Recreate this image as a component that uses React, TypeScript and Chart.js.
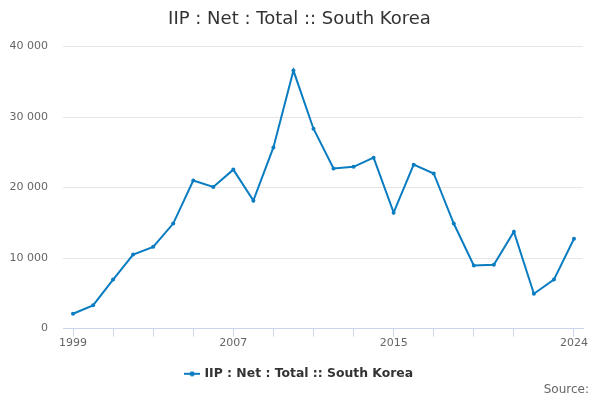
import { useEffect, useRef } from "react";
import { Chart, registerables, type ChartOptions } from "chart.js";

Chart.register(...registerables);

const years = [
  1999, 2000, 2001, 2002, 2003, 2004, 2005, 2006, 2007, 2008, 2009, 2010, 2011,
  2012, 2013, 2014, 2015, 2016, 2017, 2018, 2019, 2020, 2021, 2022, 2023, 2024,
];
const netIip = [
  2100, 3300, 6950, 10500, 11600, 14900, 21000, 20100, 22550, 18150, 25700,
  36600, 28350, 22700, 22950, 24250, 16450, 23250, 22000, 14900, 8950, 9050,
  13750, 4950, 6950, 12750,
];
const tickYears = [
  1999, 2001, 2003, 2005, 2007, 2009, 2011, 2013, 2015, 2017, 2019, 2021, 2024,
];
const labeledYears = [1999, 2007, 2015, 2024];
const seriesName = "IIP : Net : Total :: South Korea";

const FONT = "'DejaVu Sans', Verdana, sans-serif";
const BLUE = "#0a7cc1";

function legendMarker() {
  const c = document.createElement("canvas");
  c.width = 16;
  c.height = 6;
  const ctx = c.getContext("2d")!;
  ctx.strokeStyle = BLUE;
  ctx.lineWidth = 2;
  ctx.beginPath();
  ctx.moveTo(0, 3);
  ctx.lineTo(16, 3);
  ctx.stroke();
  ctx.fillStyle = BLUE;
  ctx.beginPath();
  ctx.arc(8, 3, 2.5, 0, Math.PI * 2);
  ctx.fill();
  return c;
}

// centre title and legend on the whole canvas rather than on the padded box
const centreShift = {
  id: "centreShift",
  afterLayout(chart: Chart) {
    const boxes = [chart.legend, (chart as any).titleBlock];
    for (const b of boxes) {
      if (!b) continue;
      b.left += 8;
      b.right += 8;
    }
  },
};

const sourcePlugin = {
  id: "sourceText",
  afterDraw(chart: Chart) {
    const { ctx } = chart;
    ctx.save();
    ctx.font = `12px ${FONT}`;
    ctx.fillStyle = "#666666";
    ctx.textAlign = "right";
    ctx.textBaseline = "middle";
    ctx.fillText("Source:", 589, 390);
    ctx.restore();
  },
};

export default function App() {
  const canvasRef = useRef<HTMLCanvasElement>(null);

  useEffect(() => {
    if (!canvasRef.current) return;

    const options: ChartOptions<"line"> = {
      responsive: false,
      animation: false,
      layout: { padding: { left: 0, right: 17, top: 0, bottom: 10 } },
      plugins: {
        title: {
          display: true,
          text: seriesName,
          color: "#333333",
          font: { family: FONT, size: 18, weight: "normal" },
          padding: { top: 9, bottom: 16 },
        },
        legend: {
          position: "bottom",
          labels: {
            color: "#333333",
            font: { family: FONT, size: 12.4, weight: "bold" },
            usePointStyle: true,
            pointStyle: legendMarker(),
            padding: 8,
          },
        },
        tooltip: { enabled: false },
      },
      scales: {
        x: {
          type: "linear",
          min: 1998.5,
          max: 2024.45,
          afterBuildTicks: (scale) => {
            scale.ticks = tickYears.map((v) => ({ value: v }));
          },
          afterFit: (scale) => {
            scale.height = 31;
          },
          ticks: {
            autoSkip: false,
            maxRotation: 0,
            color: "#666666",
            font: { family: FONT, size: 11 },
            padding: 0,
            callback: (v) => (labeledYears.includes(Number(v)) ? String(v) : ""),
          },
          grid: {
            drawOnChartArea: false,
            drawTicks: true,
            tickLength: 8,
            color: "#ccd6eb",
          },
          border: { color: "#ccd6eb" },
        },
        y: {
          min: 0,
          max: 40000,
          afterFit: (scale) => {
            scale.width = 63;
          },
          ticks: {
            stepSize: 10000,
            color: "#666666",
            font: { family: FONT, size: 11 },
            padding: 15,
            callback: (v) =>
              String(v).replace(/\B(?=(\d{3})+(?!\d))/g, " "),
          },
          grid: { color: "#e6e6e6", drawTicks: false },
          border: { display: false },
        },
      },
    };

    const chart = new Chart(canvasRef.current, {
      type: "line",
      data: {
        datasets: [
          {
            label: seriesName,
            data: years.map((y, i) => ({ x: y, y: netIip[i] })),
            borderColor: BLUE,
            backgroundColor: BLUE,
            borderWidth: 2,
            pointRadius: 2,
            pointBorderWidth: 0,
            tension: 0,
          },
        ],
      },
      options,
      plugins: [centreShift, sourcePlugin],
    });

    return () => {
      chart.destroy();
    };
  }, []);

  return (
    <div style={{ position: "fixed", left: 0, top: 0, width: 600, height: 400, background: "#fff" }}>
      <canvas ref={canvasRef} width={600} height={400} />
    </div>
  );
}
